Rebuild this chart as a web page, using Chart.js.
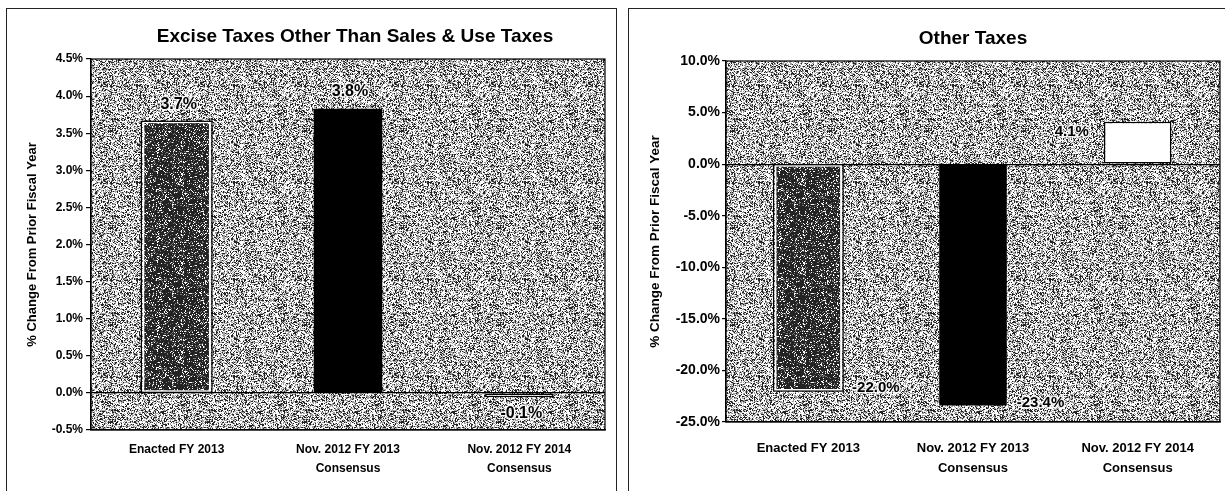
<!DOCTYPE html>
<html>
<head>
<meta charset="utf-8">
<script src="https://cdn.jsdelivr.net/npm/chart.js@4.4.0/dist/chart.umd.min.js"></script>
<style>
  body { margin: 0; background: #fff; width: 1225px; height: 491px; overflow: hidden; position: relative; }
  .panel { position: absolute; box-sizing: border-box; border: 1.5px solid #222; border-bottom: none; }
  #p1 { left: 6px; top: 8px; width: 611px; height: 490px; }
  #p2 { left: 628px; top: 8px; width: 610px; height: 490px; border-right: none; }
  canvas { position: absolute; }
  #c1 { left: 8px; top: 9px; }
  #c2 { left: 630px; top: 9px; }
</style>
</head>
<body>
<div class="panel" id="p1"></div>
<div class="panel" id="p2"></div>
<canvas id="c1" width="608" height="482"></canvas>
<canvas id="c2" width="595" height="482"></canvas>
<script>
// data
var categories = ['Enacted FY 2013', ['Nov. 2012 FY 2013', 'Consensus'], ['Nov. 2012 FY 2014', 'Consensus']];
var exciseTitle = 'Excise Taxes Other Than Sales & Use Taxes';
var exciseValues = [3.66, 3.83, -0.06];
var exciseTicks = { min: -0.5, max: 4.5, step: 0.5 };
var otherTitle = 'Other Taxes';
var otherValues = [-22.0, -23.4, 4.1];
var otherTicks = { min: -25, max: 10, step: 5 };
var yTitle = '% Change From Prior Fiscal Year';

var FONT = "'Liberation Sans', Arial, sans-serif";
Chart.defaults.color = '#000';
Chart.defaults.font.family = FONT;

// scanned-looking grey stipple (deterministic hash, only texture)
function stipple(size, dark, mid, midGrey) {
  var c = document.createElement('canvas');
  c.width = c.height = size;
  var g = c.getContext('2d');
  var img = g.createImageData(size, size);
  for (var y = 0; y < size; y++) {
    for (var x = 0; x < size; x++) {
      var h = Math.sin(x * 12.9898 + y * 78.233) * 43758.5453;
      h = h - Math.floor(h);
      var v = h < dark ? 35 : (h < dark + mid ? midGrey : 252);
      var i = (y * size + x) * 4;
      img.data[i] = img.data[i + 1] = img.data[i + 2] = v;
      img.data[i + 3] = 255;
    }
  }
  g.putImageData(img, 0, 0);
  return g.createPattern(c, 'repeat');
}
var bgPattern = stipple(97, 0.26, 0.3, 160);
var barPattern = stipple(89, 0.76, 0.12, 120);

function halo(ctx, txt, x, y) {
  ctx.strokeText(txt, x, y);
  ctx.fillText(txt, x, y);
}

var panelPlugin = {
  id: 'panel',
  beforeDraw: function(chart, args, opts) {
    var a = chart.chartArea, ctx = chart.ctx;
    ctx.save();
    ctx.fillStyle = bgPattern;
    ctx.fillRect(a.left, a.top, a.right - a.left, a.bottom - a.top);
    ctx.restore();
  },
  afterDatasetsDraw: function(chart, args, opts) {
    var a = chart.chartArea, ctx = chart.ctx;
    var meta = chart.getDatasetMeta(0);
    var vals = chart.data.datasets[0].data;
    ctx.save();
    ctx.strokeStyle = '#000';
    ctx.lineWidth = 1.2;
    ctx.strokeRect(a.left, a.top, a.right - a.left, a.bottom - a.top);
    // outline of the stippled bar
    var b0 = meta.data[0].getProps(['x', 'y', 'base', 'width'], true);
    ctx.strokeRect(b0.x - b0.width / 2 - 1, Math.min(b0.y, b0.base), b0.width + 2, Math.abs(b0.base - b0.y));
    // value labels
    ctx.font = 'bold ' + opts.labelSize + 'px ' + FONT;
    ctx.fillStyle = '#000';
    ctx.strokeStyle = 'rgba(255,255,255,0.85)';
    ctx.lineWidth = 3;
    ctx.lineJoin = 'round';
    ctx.textBaseline = 'middle';
    meta.data.forEach(function(bar, i) {
      var p = bar.getProps(['x', 'y', 'base', 'width'], true);
      var v = vals[i];
      var txt = v.toFixed(1) + '%';
      if (opts.mode === 'end') {
        ctx.textAlign = 'center';
        halo(ctx, txt, p.x + 2, v >= 0 ? p.y - 17 : p.y + 16);
      } else if (v < 0) {
        ctx.textAlign = 'left';
        halo(ctx, txt, p.x + p.width / 2 + 10, p.y - 3);
      } else {
        ctx.textAlign = 'right';
        halo(ctx, txt, p.x - p.width / 2 - 15, p.y + 10);
      }
    });
    // chart title
    ctx.font = 'bold 19px ' + FONT;
    ctx.textAlign = 'center';
    ctx.fillText(opts.title, (a.left + a.right) / 2 + opts.titleDx, opts.titleY);
    ctx.restore();
  }
};

function makeChart(id, values, ticks, o) {
  return new Chart(document.getElementById(id), {
    type: 'bar',
    data: {
      labels: categories,
      datasets: [{
        data: values,
        backgroundColor: [barPattern, '#000', '#fff'],
        borderColor: ['#fff', '#000', '#000'],
        borderWidth: [2, 0, 1.5],
        borderSkipped: false,
        barPercentage: o.barPct,
        categoryPercentage: 1
      }]
    },
    plugins: [panelPlugin],
    options: {
      responsive: false,
      animation: false,
      layout: { padding: { top: o.top, right: o.right, left: 0, bottom: 0 } },
      plugins: {
        legend: { display: false },
        tooltip: { enabled: false },
        panel: { title: o.title, titleY: o.titleY, titleDx: o.titleDx, mode: o.mode, labelSize: o.labelSize }
      },
      scales: {
        x: {
          grid: { display: false, drawTicks: false },
          border: { display: true, color: '#000', width: 1.2 },
          ticks: { padding: o.xPad, maxRotation: 0, autoSkip: false, font: { size: o.xFont, weight: 'bold', lineHeight: o.xLine } },
          afterFit: function(s) { s.height = o.xHeight; }
        },
        y: {
          min: ticks.min,
          max: ticks.max,
          grid: {
            color: function(c) { return c.tick && Math.abs(c.tick.value) < 1e-9 ? '#000' : 'rgba(0,0,0,0)'; },
            tickColor: '#000',
            tickLength: o.tickLen,
            lineWidth: 1.2
          },
          border: { display: true, color: '#000', width: 1.2 },
          ticks: {
            stepSize: ticks.step,
            padding: o.yPad,
            font: { size: o.yFont, weight: 'bold' },
            callback: function(v) { return Number(v).toFixed(1) + '%'; }
          },
          title: { display: true, text: yTitle, font: { size: o.yTitleFont, weight: 'bold' }, padding: { top: o.yTitlePad, bottom: 0 } },
          afterFit: function(s) { s.width = o.yWidth; }
        }
      }
    }
  });
}

makeChart('c1', exciseValues, exciseTicks, {
  title: exciseTitle, titleY: 28, titleDx: 7, mode: 'end', labelSize: 16,
  top: 50, right: 11, barPct: 0.4, xPad: 10, xFont: 12, xLine: 1.58, xHeight: 61,
  tickLen: 5, yPad: 3, yFont: 12, yTitleFont: 13, yTitlePad: 17, yWidth: 83
});
makeChart('c2', otherValues, otherTicks, {
  title: otherTitle, titleY: 30, titleDx: 0, mode: 'side', labelSize: 15,
  top: 52, right: 5, barPct: 0.41, xPad: 16, xFont: 13, xLine: 1.54, xHeight: 69,
  tickLen: 4, yPad: 2, yFont: 14, yTitleFont: 13.5, yTitlePad: 17, yWidth: 96
});
</script>
</body>
</html>
